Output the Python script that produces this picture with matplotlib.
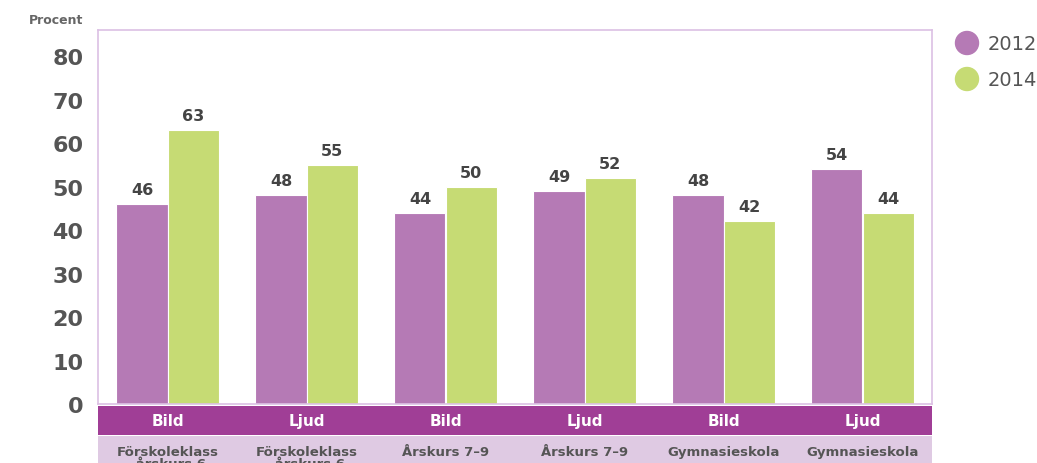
import matplotlib
matplotlib.use("Agg")
import matplotlib.pyplot as plt
from matplotlib.patches import Rectangle, Ellipse
import matplotlib.transforms as mtransforms
import numpy as np

subjects = ["Bild", "Ljud", "Bild", "Ljud", "Bild", "Ljud"]
levels = ["Förskoleklass\n–årskurs 6", "Förskoleklass\n–årskurs 6", "Årskurs 7–9",
          "Årskurs 7–9", "Gymnasieskola", "Gymnasieskola"]
v2012 = [46, 48, 44, 49, 48, 54]
v2014 = [63, 55, 50, 52, 42, 44]
series_names = ["2012", "2014"]
yticks = [0, 10, 20, 30, 40, 50, 60, 70, 80]

c12 = "#B57AB5"
c14 = "#C6DB74"
dark_band = "#A03E96"
light_band = "#DFCAE3"
border = "#DCC0E4"
txt = "#555555"

cond = dict(family="DejaVu Sans", fontweight="bold")

fig = plt.figure(figsize=(10.37, 4.64), dpi=100)
ax = fig.add_axes([98/1037, 1-405/464, (932-98)/1037, (405-31)/464])

x = np.arange(len(subjects))
w = 0.367
b1 = ax.bar(x - w/2, v2012, w, color=c12, edgecolor="white", linewidth=0.8)
b2 = ax.bar(x + w/2, v2014, w, color=c14, edgecolor="white", linewidth=0.8)

for bars, vals in ((b1, v2012), (b2, v2014)):
    for r, v in zip(bars, vals):
        ax.text(r.get_x() + r.get_width()/2, v + 1.6, str(v), ha="center", va="bottom",
                fontsize=11.5, color="#444444", **cond)

ax.set_xlim(-0.5, len(subjects) - 0.5)
ax.set_ylim(0, 86)
ax.set_yticks(yticks)
ax.set_yticklabels([str(t) for t in yticks], fontsize=16, color=txt, **cond)
ax.tick_params(axis="y", length=0, pad=10.5)
ax.set_xticks([])
for s in ax.spines.values():
    s.set_color(border)
    s.set_linewidth(1.2)

fig.text(83/1037, 1-21/464, "Procent", ha="right", va="center", fontsize=9,
         color="#666666", fontweight="bold")

# category bands
tr = mtransforms.blended_transform_factory(ax.transData, ax.transAxes)
h = 374.0
y_d0 = (405 - 436) / h
y_d1 = (405 - 407) / h
y_l0 = (405 - 480) / h
y_l1 = (405 - 437) / h
ax.add_patch(Rectangle((-0.5, y_d0), len(subjects), y_d1 - y_d0, transform=tr,
                       color=dark_band, clip_on=False, lw=0))
ax.add_patch(Rectangle((-0.5, y_l0), len(subjects), y_l1 - y_l0, transform=tr,
                       color=light_band, clip_on=False, lw=0))
for i, (s, l) in enumerate(zip(subjects, levels)):
    ax.text(i, (y_d0 + y_d1)/2, s, transform=tr, ha="center", va="center",
            fontsize=11, color="white", **cond)
    ax.text(i, (405 - 446) / h, l, transform=tr, ha="center", va="top",
            fontsize=9.5, color=txt, linespacing=0.95, **cond)

# legend
for yy, col, name in ((44, c12, series_names[0]), (80, c14, series_names[1])):
    fig.patches.append(Ellipse((967/1037, 1-yy/464), 23/1037, 23/464, color=col,
                               transform=fig.transFigure, figure=fig))
    fig.text(988/1037, 1-yy/464, name, ha="left", va="center", fontsize=14,
             color=txt, family="DejaVu Sans")

fig.savefig("out.png", dpi=100)
